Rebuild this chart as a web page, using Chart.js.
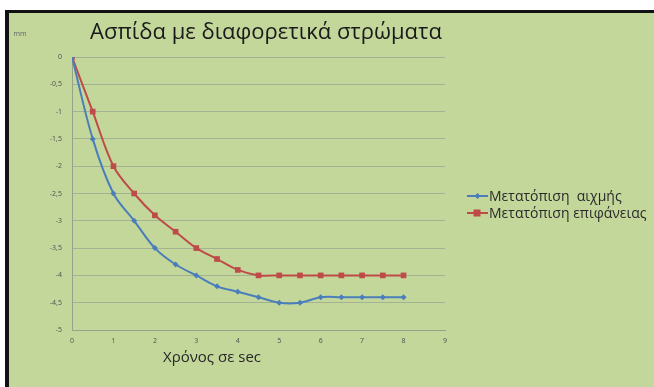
<!DOCTYPE html>
<html>
<head>
<meta charset="utf-8">
<script src="https://cdn.jsdelivr.net/npm/chart.js@4.4.1/dist/chart.umd.min.js"></script>
<style>
  html, body { margin: 0; padding: 0; background: #ffffff; }
  #wrap { width: 654px; height: 387px; position: relative; }
</style>
</head>
<body>
<div id="wrap"><canvas id="c" width="654" height="387"></canvas></div>
<script>
// Time in seconds and the two displacement series (mm)
const times = [0, 0.5, 1, 1.5, 2, 2.5, 3, 3.5, 4, 4.5, 5, 5.5, 6, 6.5, 7, 7.5, 8];
const tipShift = [0, -1.5, -2.5, -3, -3.5, -3.8, -4, -4.2, -4.3, -4.4, -4.5, -4.5, -4.4, -4.4, -4.4, -4.4, -4.4];
const surfaceShift = [0, -1, -2, -2.5, -2.9, -3.2, -3.5, -3.7, -3.9, -4, -4, -4, -4, -4, -4, -4, -4];
const seriesNames = ['Μετατόπιση  αιχμής', 'Μετατόπιση επιφάνειας'];
const chartTitle = 'Ασπίδα με διαφορετικά στρώματα';
const xTitle = 'Χρόνος σε sec';
const yUnit = 'mm';

const BLUE = '#4a7ebb';
const RED = '#be4b48';
const PANEL = '#c4d79b';

const toPoints = (ys) => times.map((t, i) => ({ x: t, y: ys[i] }));

// Panel background with the dark frame on the top and left edges
const panelPlugin = {
  id: 'panel',
  beforeDraw(chart) {
    const ctx = chart.ctx;
    ctx.save();
    ctx.fillStyle = '#ffffff';
    ctx.fillRect(0, 0, chart.width, chart.height);
    ctx.fillStyle = '#111111';
    ctx.fillRect(5, 10, chart.width - 5, 3);
    ctx.fillRect(5, 10, 4, chart.height - 10);
    ctx.fillStyle = PANEL;
    ctx.fillRect(9, 13, chart.width - 9, chart.height - 13);
    ctx.restore();
  }
};

// Titles, unit label and the line-with-marker legend
const textPlugin = {
  id: 'texts',
  afterDraw(chart) {
    const ctx = chart.ctx;
    ctx.save();
    ctx.fillStyle = '#1a1a1a';
    ctx.textAlign = 'center';
    ctx.textBaseline = 'middle';
    ctx.font = '22px "Open Sans", "Noto Sans", sans-serif';
    ctx.fillText(chartTitle, 266, 33);

    ctx.font = '15px "Open Sans", "Noto Sans", sans-serif';
    ctx.fillStyle = '#262626';
    ctx.fillText(xTitle, 212, 358);

    ctx.font = '7px "Noto Sans", sans-serif';
    ctx.fillStyle = '#6a6a6a';
    ctx.fillText(yUnit, 20, 34);

    // legend
    const items = [
      { name: seriesNames[0], color: BLUE, shape: 'diamond', y: 196 },
      { name: seriesNames[1], color: RED, shape: 'square', y: 213 }
    ];
    ctx.font = '14px "Open Sans", "Noto Sans", sans-serif';
    ctx.textAlign = 'left';
    items.forEach(it => {
      ctx.strokeStyle = it.color;
      ctx.lineWidth = 2;
      ctx.beginPath();
      ctx.moveTo(467, it.y);
      ctx.lineTo(488, it.y);
      ctx.stroke();
      ctx.fillStyle = it.color;
      if (it.shape === 'square') {
        ctx.fillRect(473.5, it.y - 3.5, 7, 7);
      } else {
        ctx.beginPath();
        ctx.moveTo(477.5, it.y - 3);
        ctx.lineTo(480.5, it.y);
        ctx.lineTo(477.5, it.y + 3);
        ctx.lineTo(474.5, it.y);
        ctx.closePath();
        ctx.fill();
      }
      ctx.fillStyle = '#2a2a2a';
      ctx.fillText(it.name, 489, it.y + 1);
    });
    ctx.restore();
  }
};

const fmt = (v) => String(v).replace('.', ',');

new Chart(document.getElementById('c'), {
  type: 'line',
  data: {
    datasets: [
      {
        label: seriesNames[0],
        data: toPoints(tipShift),
        borderColor: BLUE,
        backgroundColor: BLUE,
        borderWidth: 2,
        pointStyle: 'rectRot',
        pointRadius: 3,
        pointBorderWidth: 0,
        tension: 0.35,
        fill: false
      },
      {
        label: seriesNames[1],
        data: toPoints(surfaceShift),
        borderColor: RED,
        backgroundColor: RED,
        borderWidth: 2,
        pointStyle: 'rect',
        pointRadius: 4,
        pointBorderWidth: 0,
        tension: 0.35,
        fill: false
      }
    ]
  },
  options: {
    responsive: false,
    animation: false,
    devicePixelRatio: 1,
    layout: { padding: { top: 57, right: 209, left: 0, bottom: 0 } },
    plugins: {
      legend: { display: false },
      title: { display: false },
      tooltip: { enabled: false }
    },
    scales: {
      x: {
        type: 'linear',
        min: 0,
        max: 9,
        ticks: {
          stepSize: 1,
          padding: 7,
          color: '#555555',
          font: { size: 7, family: '"Noto Sans", sans-serif' },
          callback: (v) => fmt(v)
        },
        grid: { display: false, drawTicks: false },
        border: { display: true, color: '#97a28c', width: 1 },
        afterFit(scale) { scale.height = 57; }
      },
      y: {
        type: 'linear',
        min: -5,
        max: 0,
        ticks: {
          stepSize: 0.5,
          padding: 10,
          color: '#555555',
          font: { size: 7, family: '"Noto Sans", sans-serif' },
          callback: (v) => fmt(v)
        },
        grid: { color: '#a3b292', lineWidth: 1, drawTicks: false },
        border: { display: true, color: '#97a28c', width: 1 },
        afterFit(scale) { scale.width = 72; }
      }
    }
  },
  plugins: [panelPlugin, textPlugin]
});
</script>
</body>
</html>
